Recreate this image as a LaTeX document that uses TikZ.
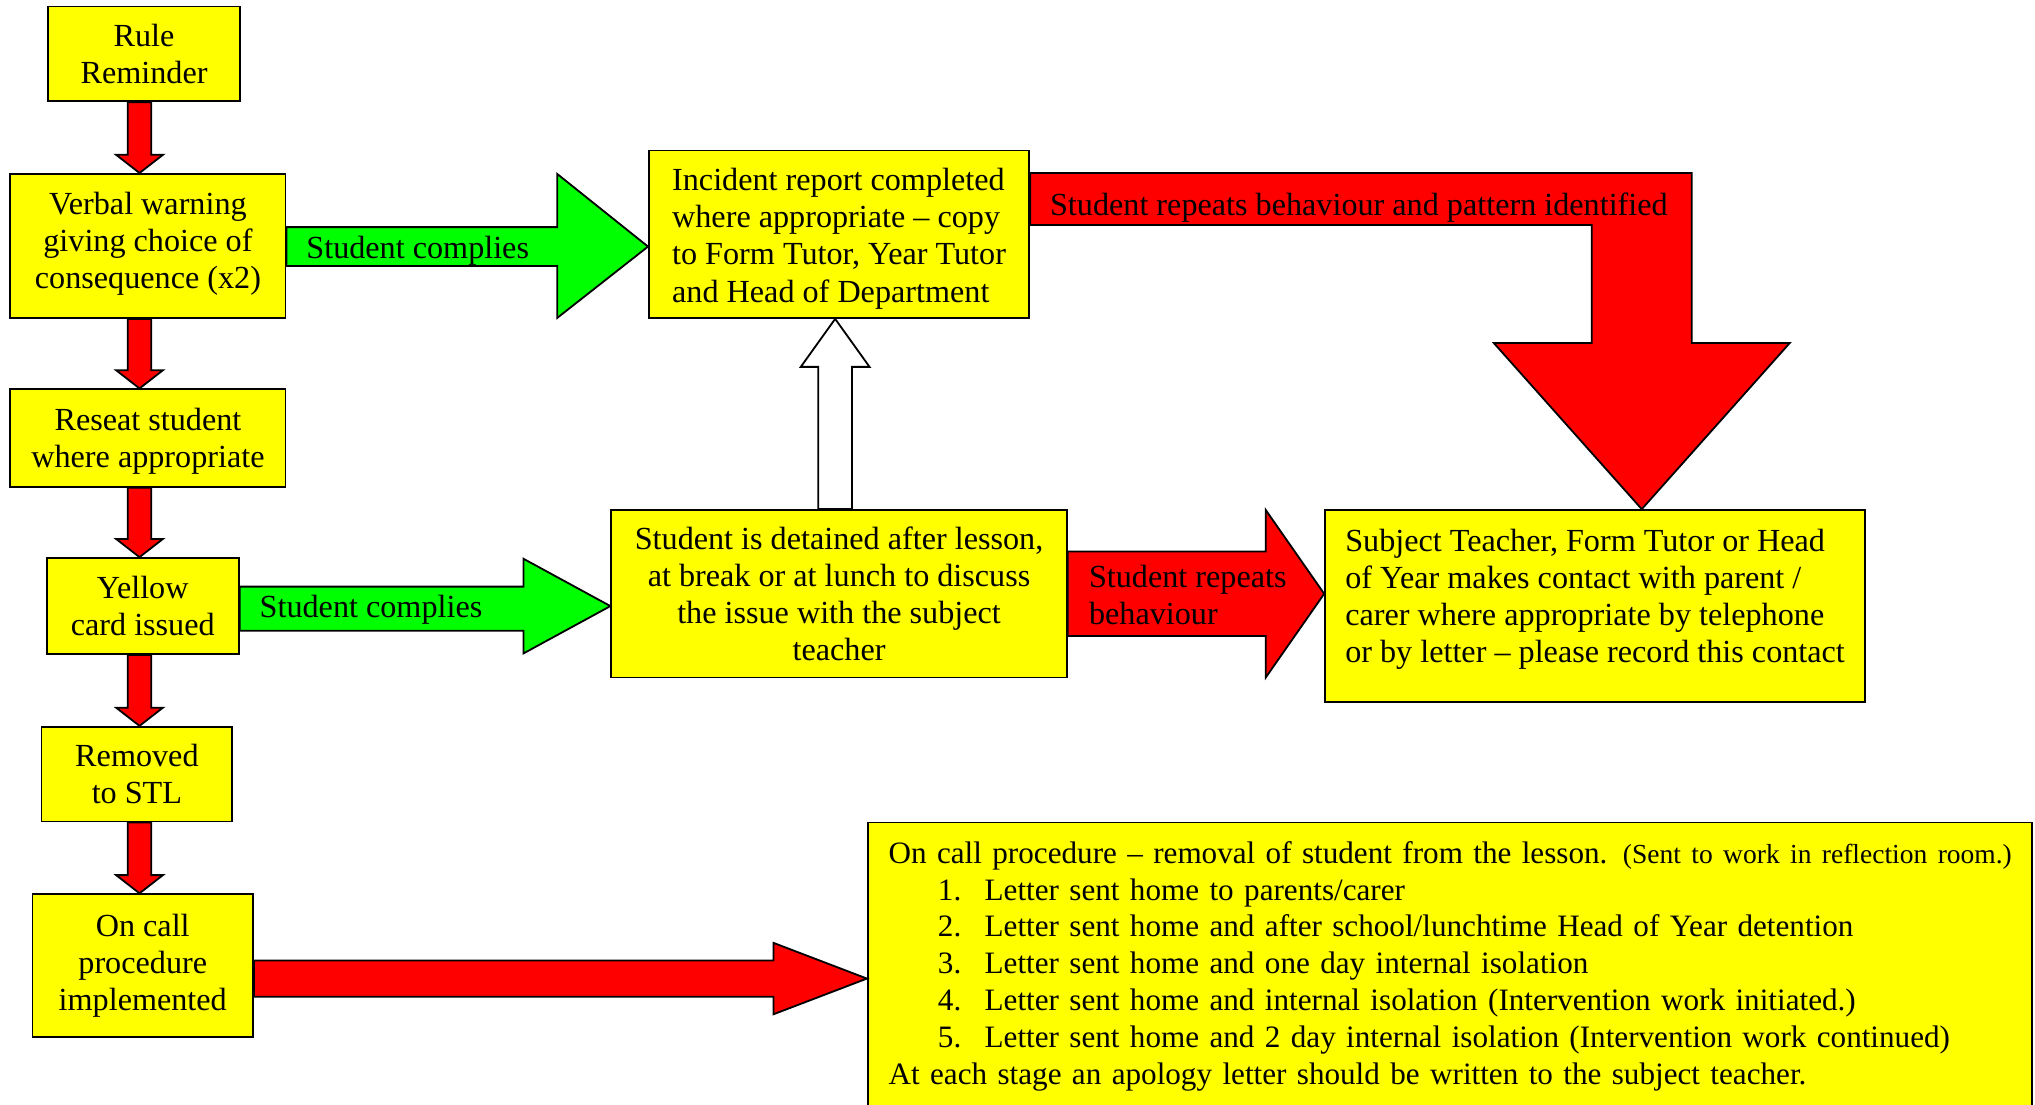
\documentclass[tikz,border=0pt]{standalone}
\usepackage{fontspec}
\setmainfont{Liberation Serif}
\usetikzlibrary{calc}
\definecolor{boxyellow}{RGB}{255,255,0}
\definecolor{arrred}{RGB}{255,0,0}
\definecolor{arrgreen}{RGB}{0,255,0}
\newcommand{\RedDownArr}[2]{%
  \coordinate (da1) at (#1.south -| spine);
  \coordinate (da2) at (#2.north -| spine);
  \draw[redarr] ($(da1)+(-9,0)$) -- ($(da2)+(-9,-14)$) -- ($(da2)+(-18,-14)$) -- (da2)
    -- ($(da2)+(18,-14)$) -- ($(da2)+(9,-14)$) -- ($(da1)+(9,0)$) -- cycle;}
\begin{document}
\begin{tikzpicture}[x=0.5pt,y=-0.5pt,
  box/.style={draw=black, line width=0.7pt, fill=boxyellow,
    font=\fontsize{12.4}{14.3}\selectfont, align=center, inner sep=0pt},
  shapearr/.style={draw=black, line width=0.7pt, line join=miter},
  redarr/.style={shapearr, fill=arrred},
  greenarr/.style={shapearr, fill=arrgreen},
  whitearr/.style={shapearr, fill=white},
  lbl/.style={font=\fontsize{12.4}{14.3}\selectfont, anchor=west, align=left, inner sep=0pt}]
\useasboundingbox (0,0) rectangle (1568,851);
\clip (0,0) rectangle (1568,851);
\coordinate (spine) at (107.5,0);

% boxes
\node[box, minimum width=74pt, minimum height=36.5pt] (rule) at (111,41.5) {Rule\\Reminder};
\node[box, minimum width=106pt, minimum height=55.5pt] (verbal) at (114,189.5) {Verbal warning\\giving choice of\\consequence (x2)\rule[-4.5pt]{0pt}{0pt}};
\node[box, minimum width=106pt, minimum height=37.5pt] (reseat) at (114,337.5) {\rule{0pt}{11pt}Reseat student\\where appropriate};
\node[box, minimum width=74pt, minimum height=37pt] (yellow) at (110,467) {Yellow\\card issued};
\node[box, minimum width=73.5pt, minimum height=36.5pt] (removed) at (105.5,596.5) {Removed\\to STL};
\node[box, minimum width=85pt, minimum height=55pt] (oncall) at (110,744) {On call\\procedure\\implemented};
\node[box, align=left, minimum width=146.5pt, minimum height=64.5pt] (incident) at (646.5,180.5)
  {\rule{0pt}{12pt}Incident report completed\\where appropriate – copy\\to Form Tutor, Year Tutor\\and Head of Department};
\node[box, minimum width=175.5pt, minimum height=64.5pt] (detained) at (646.5,457.5)
  {Student is detained after lesson,\\at break or at lunch to discuss\\the issue with the subject\\teacher};
\node[box, align=left, minimum width=208pt, minimum height=74pt] (subject) at (1229,467)
  {Subject Teacher, Form Tutor or Head\\of Year makes contact with parent /\\carer where appropriate by telephone\\or by letter – please record this contact\rule[-7.7pt]{0pt}{0pt}};
\node[box, anchor=north west, align=left, text width=432.5pt, inner xsep=8pt, inner ysep=7.25pt,
  font=\fontsize{12}{14.2}\selectfont] (proc) at (668,633)
  {\mbox{On call procedure – removal of student from the lesson. {\fontsize{10.6}{14.2}\selectfont(Sent to work in reflection room.)}}\\
   \hspace*{19pt}\makebox[18pt][l]{1.}Letter sent home to parents/carer\\
   \hspace*{19pt}\makebox[18pt][l]{2.}Letter sent home and after school/lunchtime Head of Year detention\\
   \hspace*{19pt}\makebox[18pt][l]{3.}Letter sent home and one day internal isolation\\
   \hspace*{19pt}\makebox[18pt][l]{4.}Letter sent home and internal isolation (Intervention work initiated.)\\
   \hspace*{19pt}\makebox[18pt][l]{5.}Letter sent home and 2 day internal isolation (Intervention work continued)\\
   At each stage an apology letter should be written to the subject teacher.\rule[-40pt]{0pt}{0pt}};

% vertical red arrows
\RedDownArr{rule}{verbal}
\RedDownArr{verbal}{reseat}
\RedDownArr{reseat}{yellow}
\RedDownArr{yellow}{removed}
\RedDownArr{removed}{oncall}

% green arrow 1
\coordinate (g1s) at ($(verbal.east)+(0,0.5)$);
\coordinate (g1t) at (incident.west |- g1s);
\draw[greenarr] ($(g1s)+(0,-15)$) -- ($(g1t)+(-70,-15)$) -- ($(g1t)+(-70,-56)$) -- (g1t)
  -- ($(g1t)+(-70,55)$) -- ($(g1t)+(-70,15)$) -- ($(g1s)+(0,15)$) -- cycle;

% green arrow 2
\coordinate (g2s) at (yellow.east);
\coordinate (g2t) at (detained.west |- g2s);
\draw[greenarr] ($(g2s)+(0,-15)$) -- ($(g2t)+(-67,-15)$) -- ($(g2t)+(-67,-36.5)$) -- (g2t)
  -- ($(g2t)+(-67,36.5)$) -- ($(g2t)+(-67,19)$) -- ($(g2s)+(0,19)$) -- cycle;

% red arrow detained -> subject
\coordinate (r3s) at (detained.east);
\coordinate (r3t) at (subject.west |- r3s);
\draw[redarr] ($(r3s)+(0,-32.5)$) -- ($(r3t)+(-45,-32.5)$) -- ($(r3t)+(-45,-64.5)$) -- (r3t)
  -- ($(r3t)+(-45,64.5)$) -- ($(r3t)+(-45,32.5)$) -- ($(r3s)+(0,32.5)$) -- cycle;

% red arrow oncall -> proc
\coordinate (r4s) at ($(oncall.east)+(0,10)$);
\coordinate (r4t) at (proc.west |- r4s);
\draw[redarr] ($(r4s)+(0,-14)$) -- ($(r4t)+(-72,-14)$) -- ($(r4t)+(-72,-27.5)$) -- (r4t)
  -- ($(r4t)+(-72,27.5)$) -- ($(r4t)+(-72,14)$) -- ($(r4s)+(0,14)$) -- cycle;

% bent red arrow incident -> subject
\coordinate (bs) at (incident.north east);
\coordinate (btip) at ($(subject.north)+(36,0)$);
\coordinate (bcorner) at (btip |- bs);
\draw[redarr] ($(bs)+(0,18)$) -- ($(bcorner)+(38.5,18)$) -- ($(btip)+(38.5,-128)$) -- ($(btip)+(114,-128)$)
  -- (btip) -- ($(btip)+(-114,-128)$) -- ($(btip)+(-38.5,-128)$) -- ($(bcorner)+(-38.5,58)$)
  -- ($(bs)+(0,58)$) -- cycle;

% white arrow detained -> incident
\coordinate (wt) at ($(incident.south)+(-3,0)$);
\coordinate (ws) at (wt |- detained.north);
\draw[whitearr] ($(ws)+(-13,0)$) -- ($(wt)+(-13,37)$) -- ($(wt)+(-26.5,37)$) -- (wt)
  -- ($(wt)+(26.5,37)$) -- ($(wt)+(13,37)$) -- ($(ws)+(13,0)$) -- cycle;

% labels
\node[lbl] (lg1) at ($(g1s)+(15,3)$) {Student complies};
\node[lbl] (lg2) at ($(g2s)+(15,3)$) {Student complies};
\node[lbl] (lr3) at ($(r3s)+(16,1)$) {Student repeats\\behaviour};
\node[lbl] (lb) at ($(bs)+(15,45)$) {Student repeats behaviour and pattern identified};
\end{tikzpicture}
\end{document}
